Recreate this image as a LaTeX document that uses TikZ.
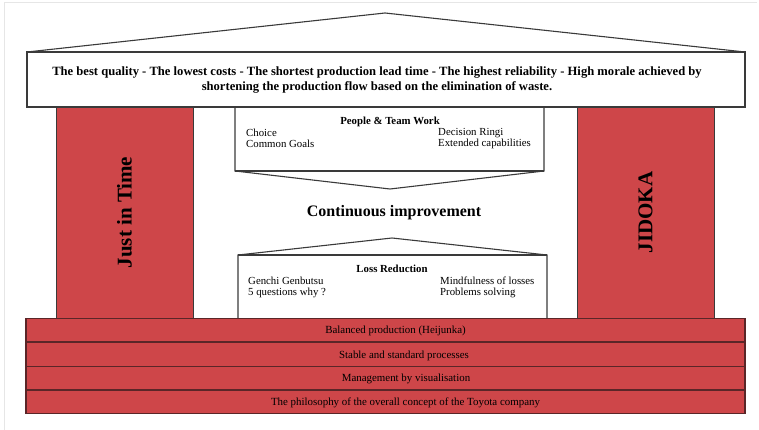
\documentclass[tikz,border=0pt]{standalone}
\usepackage{fontspec}
\setmainfont{Liberation Serif}
\definecolor{tred}{HTML}{CE4649}
\definecolor{tline}{HTML}{3A3A3A}
\definecolor{bandline}{HTML}{5A2628}
\definecolor{framegray}{HTML}{E6E6E6}
\begin{document}
\begin{tikzpicture}[x=1pt,y=-1pt,
  outline/.style={draw=tline,line width=1.1pt,line join=miter},
  pillar/.style={fill=tred,draw=tline,line width=0.9pt,minimum width=137pt,minimum height=211pt,inner sep=0pt},
  band/.style={fill=tred,draw=bandline,line width=1.2pt,minimum width=719pt,minimum height=23.5pt,inner sep=0pt},
  bandtext/.style={font=\fontsize{10.9}{12}\selectfont,inner sep=0pt},
  pillartext/.style={rotate=90,font=\fontsize{21}{24}\selectfont\bfseries},
  small/.style={font=\fontsize{10.8}{12}\selectfont,align=left,anchor=west,inner sep=0pt},
  smallbold/.style={font=\fontsize{10.8}{12}\selectfont\bfseries,inner sep=0pt}
]
\useasboundingbox (0,0) rectangle (759,430);
% screenshot frame
\draw[framegray,line width=1.2pt] (4.5,430) -- (4.5,2.5) -- (757,2.5);
% pillars
\node[pillar] (jitbox) at (124.5,212.5) {};
\node[pillar] (jidbox) at (645.5,212.5) {};
\node[pillartext] (jit) at (jitbox.center) {Just in Time};
\node[pillartext] (jid) at (jidbox.center) {JIDOKA};
% roof
\coordinate (rl) at (27,52);
\coordinate (rr) at (745,52);
\coordinate (ra) at (385,13);
\draw[outline,fill=white] (rl) -- (ra) -- (rr) -- cycle;
\node[outline,fill=white,minimum width=718pt,minimum height=55pt,inner sep=0pt] (roofbox) at (386,79.5) {};
\node[font=\fontsize{12.6}{15}\selectfont\bfseries,align=center,inner sep=0pt] (goal) at (377,80.5) {The best quality - The lowest costs - The shortest production lead time - The highest reliability - High morale achieved by\\shortening the production flow based on the elimination of waste.};
% people & team work box
\coordinate (p1) at (235,107);
\coordinate (p2) at (235,171);
\coordinate (pv) at (390,189);
\coordinate (p3) at (544,171);
\coordinate (p4) at (544,107);
\draw[outline] (p1) -- (p2) -- (pv) -- (p3) -- (p4);
\draw[outline] (p2) -- (p3);
\node[smallbold] (ptw) at (390,122) {People \& Team Work};
\node[small] (choice) at (246,133) {Choice};
\node[small] (goals) at (246,144) {Common Goals};
\node[small] (ringi) at (438,133) {Decision Ringi};
\node[small] (ext) at (438,144) {Extended capabilities};
% continuous improvement
\node[font=\fontsize{16}{19}\selectfont\bfseries,inner sep=0pt] (ci) at (394,213) {Continuous improvement};
% loss reduction box
\coordinate (l1) at (238,318);
\coordinate (l2) at (238,255);
\coordinate (la) at (392,238);
\coordinate (l3) at (547,255);
\coordinate (l4) at (547,318);
\draw[outline] (l1) -- (l2) -- (la) -- (l3) -- (l4);
\draw[outline] (l2) -- (l3);
\node[smallbold] (lr) at (392,269) {Loss Reduction};
\node[small] (gg) at (248,281) {Genchi Genbutsu};
\node[small] (q5) at (248,292.5) {5 questions why ?};
\node[small] (mind) at (440,281) {Mindfulness of losses};
\node[small] (prob) at (440,292.5) {Problems solving};
% base bands
\node[band] (b1) at (385.5,330.25) {};
\node[band] (b2) at (385.5,354.5) {};
\node[band] (b3) at (385.5,378) {};
\node[band] (b4) at (385.5,401.75) {};
\node[bandtext] (t1) at (395.5,331) {Balanced production (Heijunka)};
\node[bandtext] (t2) at (404,355.5) {Stable and standard processes};
\node[bandtext] (t3) at (406,379) {Management by visualisation};
\node[bandtext] (t4) at (405.5,402.5) {The philosophy of the overall concept of the Toyota company};
\end{tikzpicture}
\end{document}
